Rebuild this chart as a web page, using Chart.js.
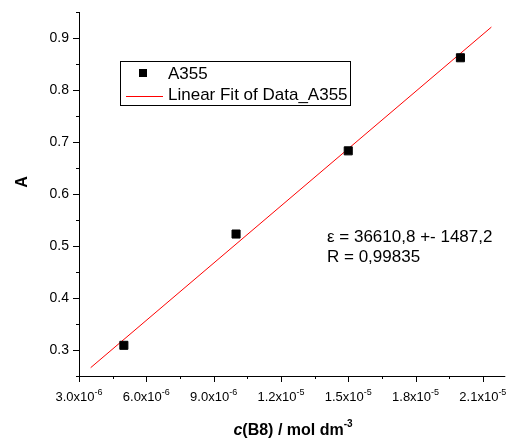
<!DOCTYPE html>
<html>
<head>
<meta charset="utf-8">
<script src="https://cdn.jsdelivr.net/npm/chart.js@4"></script>
<style>
  html, body { margin: 0; padding: 0; background: #fff; }
  #wrap { width: 512px; height: 441px; }
</style>
</head>
<body>
<div id="wrap"><canvas id="grafico"></canvas></div>
<script>
// datos medidos
const concentrations = [5e-6, 1e-5, 1.5e-5, 2e-5];
const absorbance = [0.309, 0.523, 0.683, 0.862];

// recta de ajuste (extremos)
const fitX = [3.52e-6, 2.138e-5];
const fitY = [0.266, 0.921];

// ticks
const xTickValues = [3e-6, 6e-6, 9e-6, 1.2e-5, 1.5e-5, 1.8e-5, 2.1e-5];
const xTickMantissa = ['3.0', '6.0', '9.0', '1.2', '1.5', '1.8', '2.1'];
const xTickExp = ['-6', '-6', '-6', '-5', '-5', '-5', '-5'];
const xMinorValues = [4.5e-6, 7.5e-6, 1.05e-5, 1.35e-5, 1.65e-5, 1.95e-5];
const yTickValues = [0.3, 0.4, 0.5, 0.6, 0.7, 0.8, 0.9];
const yTickLabels = ['0.3', '0.4', '0.5', '0.6', '0.7', '0.8', '0.9'];
const yMinorValues = [0.25, 0.35, 0.45, 0.55, 0.65, 0.75, 0.85, 0.95];

const legendLabels = ['A355', 'Linear Fit of Data_A355'];
const noteLines = ['\u03b5 = 36610,8 +- 1487,2', 'R = 0,99835'];

const FONT = '"Liberation Sans", Arial, sans-serif';

const axisDecor = {
  id: 'axisDecor',
  afterDraw(chart) {
    const { ctx, scales: { x, y }, chartArea } = chart;
    ctx.save();
    ctx.strokeStyle = '#000';
    ctx.fillStyle = '#000';
    ctx.lineWidth = 1;

    // ejes
    ctx.beginPath();
    ctx.moveTo(chartArea.left + 0.5, chartArea.top);
    ctx.lineTo(chartArea.left + 0.5, chartArea.bottom + 0.5);
    ctx.lineTo(chartArea.right, chartArea.bottom + 0.5);
    ctx.stroke();

    // ticks x
    ctx.beginPath();
    xTickValues.forEach(v => {
      const px = Math.round(x.getPixelForValue(v)) + 0.5;
      ctx.moveTo(px, chartArea.bottom);
      ctx.lineTo(px, chartArea.bottom + 6);
    });
    xMinorValues.forEach(v => {
      const px = Math.round(x.getPixelForValue(v)) + 0.5;
      ctx.moveTo(px, chartArea.bottom);
      ctx.lineTo(px, chartArea.bottom + 3);
    });
    // ticks y
    yTickValues.forEach(v => {
      const py = Math.round(y.getPixelForValue(v)) + 0.5;
      ctx.moveTo(chartArea.left, py);
      ctx.lineTo(chartArea.left - 6, py);
    });
    yMinorValues.forEach(v => {
      const py = Math.round(y.getPixelForValue(v)) + 0.5;
      ctx.moveTo(chartArea.left, py);
      ctx.lineTo(chartArea.left - 3, py);
    });
    ctx.stroke();

    // etiquetas x con exponente
    ctx.textBaseline = 'alphabetic';
    xTickValues.forEach((v, i) => {
      const px = x.getPixelForValue(v);
      const main = xTickMantissa[i] + 'x10';
      ctx.font = '13px ' + FONT;
      const wMain = ctx.measureText(main).width;
      ctx.font = '9px ' + FONT;
      const wExp = ctx.measureText(xTickExp[i]).width;
      const start = px - (wMain + wExp) / 2;
      ctx.textAlign = 'left';
      ctx.font = '13px ' + FONT;
      ctx.fillText(main, start, 401);
      ctx.font = '9px ' + FONT;
      ctx.fillText(xTickExp[i], start + wMain, 395);
    });

    // etiquetas y
    ctx.font = '14px ' + FONT;
    ctx.textAlign = 'right';
    ctx.textBaseline = 'middle';
    yTickValues.forEach((v, i) => {
      ctx.fillText(yTickLabels[i], 69, y.getPixelForValue(v) + 0.5);
    });

    // título eje y
    ctx.save();
    ctx.translate(27, 182);
    ctx.rotate(-Math.PI / 2);
    ctx.font = 'bold 16px ' + FONT;
    ctx.textAlign = 'center';
    ctx.textBaseline = 'alphabetic';
    ctx.fillText('A', 0, 0);
    ctx.restore();

    // título eje x: c(B8) / mol dm-3
    ctx.textBaseline = 'alphabetic';
    ctx.textAlign = 'left';
    const parts = [
      { t: 'c', f: 'italic bold 16px ' + FONT, dy: 0 },
      { t: '(B8) / mol dm', f: 'bold 16px ' + FONT, dy: 0 },
      { t: '-3', f: 'bold 10px ' + FONT, dy: -8 }
    ];
    let total = 0;
    parts.forEach(p => { ctx.font = p.f; p.w = ctx.measureText(p.t).width; total += p.w; });
    let cx = 293 - total / 2;
    parts.forEach(p => { ctx.font = p.f; ctx.fillText(p.t, cx, 435 + p.dy); cx += p.w; });

    // leyenda
    ctx.strokeRect(120.5, 61.5, 230, 44);
    ctx.fillRect(139, 69, 8, 8);
    ctx.strokeStyle = '#ff0000';
    ctx.beginPath();
    ctx.moveTo(126, 96.5);
    ctx.lineTo(163, 96.5);
    ctx.stroke();
    ctx.font = '17px ' + FONT;
    ctx.fillStyle = '#000';
    ctx.fillText(legendLabels[0], 168, 79);
    ctx.fillText(legendLabels[1], 168, 100);

    // nota
    ctx.fillText(noteLines[0], 327, 242);
    ctx.fillText(noteLines[1], 327, 262);

    ctx.restore();
  }
};

new Chart(document.getElementById('grafico'), {
  type: 'scatter',
  data: {
    datasets: [
      {
        label: legendLabels[0],
        data: concentrations.map((c, i) => ({ x: c, y: absorbance[i] })),
        backgroundColor: '#000',
        borderColor: '#000',
        pointStyle: 'rect',
        pointRadius: 5.7,
        pointHoverRadius: 5.7,
        order: 1
      },
      {
        label: legendLabels[1],
        type: 'line',
        data: fitX.map((c, i) => ({ x: c, y: fitY[i] })),
        borderColor: '#ff0000',
        borderWidth: 1,
        pointRadius: 0,
        fill: false,
        tension: 0,
        order: 2
      }
    ]
  },
  options: {
    responsive: true,
    maintainAspectRatio: false,
    animation: false,
    layout: { padding: { left: 79, right: 2, top: 12, bottom: 65 } },
    plugins: {
      legend: { display: false },
      tooltip: { enabled: false }
    },
    scales: {
      x: {
        type: 'linear',
        min: 3e-6,
        max: 2.2e-5,
        grid: { display: false },
        border: { display: false },
        ticks: { display: false },
        title: { display: false },
        afterFit(scale) { scale.height = 0; }
      },
      y: {
        type: 'linear',
        min: 0.25,
        max: 0.95,
        grid: { display: false },
        border: { display: false },
        ticks: { display: false },
        title: { display: false },
        afterFit(scale) { scale.width = 0; }
      }
    }
  },
  plugins: [axisDecor]
});
</script>
</body>
</html>
